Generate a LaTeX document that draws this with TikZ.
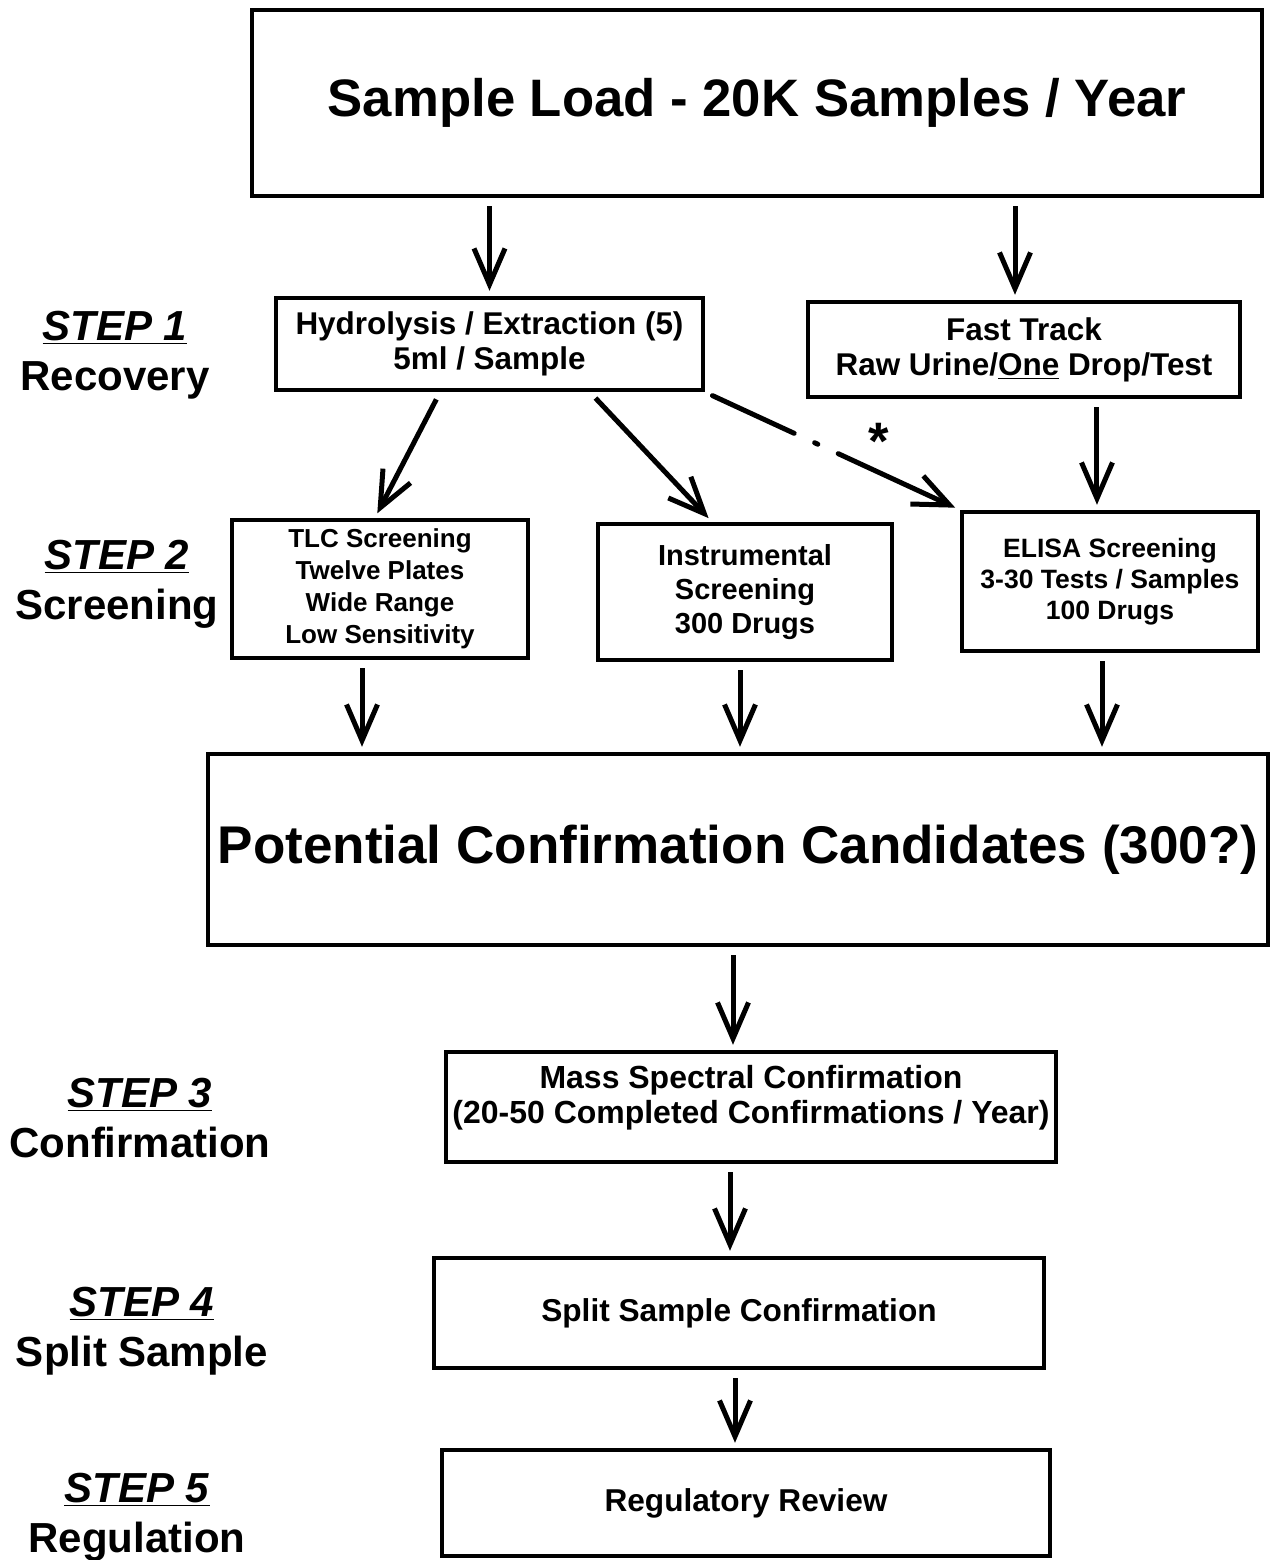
\documentclass[tikz,border=0pt]{standalone}
\usepackage{fontspec}
\setmainfont{Liberation Sans}
\usetikzlibrary{arrows.meta, positioning}
\newcommand\setfs[2]{\fontsize{#1}{#2}\selectfont\bfseries}

\begin{document}
\begin{tikzpicture}[x=0.02cm,y=-0.02cm]

\tikzstyle{box}=[rectangle,draw,line width=0.09cm,align=center,inner sep=0pt];
\tikzstyle{arr}=[-{Straight Barb[length=0.72cm,width=0.62cm]},line width=0.1cm,shorten <=0.16cm,shorten >=0.1cm];
\tikzstyle{stepname}=[align=center,inner sep=0pt,font=\setfs{23.9}{28.5}];

\useasboundingbox (0,0) rectangle (1270,1560);

% boxes
\node(LOAD) [box, minimum width=20.2cm, minimum height=3.72cm, font=\setfs{30}{36}] at (757,103) {Sample Load - 20K Samples / Year};
\node(HYDRO) [box, minimum width=8.54cm, minimum height=1.84cm, font=\setfs{17.9}{19.9}] at (489.5,344) {Hydrolysis / Extraction (5)\\5ml / Sample};
\node(FAST) [box, minimum width=8.64cm, minimum height=1.9cm, font=\setfs{17.9}{19.9}] at (1024,349.5) {Fast Track\\Raw Urine/\underline{One} Drop/Test};
\node(TLC) [box, minimum width=5.92cm, minimum height=2.76cm, font=\setfs{14.8}{18.2}] at (380,589) {TLC Screening\\Twelve Plates\\Wide Range\\Low Sensitivity};
\node(INSTR) [box, minimum width=5.88cm, minimum height=2.72cm, font=\setfs{16.5}{19.3}] at (745,592) {Instrumental\\Screening\\300 Drugs};
\node(ELISA) [box, minimum width=5.92cm, minimum height=2.78cm, font=\setfs{15.1}{17.6}] at (1110,581.5) {ELISA Screening\\3-30 Tests / Samples\\100 Drugs};
\node(CAND) [box, minimum width=21.2cm, minimum height=3.82cm, font=\setfs{30.2}{36}] at (738,849.5) {Potential Confirmation Candidates (300?)};
\node(MASS) [box, minimum width=12.2cm, minimum height=2.2cm, font=\setfs{18.2}{19.9}] at (751,1107) {Mass Spectral Confirmation\\(20-50 Completed Confirmations / Year)\\[-0.2cm]~};
\node(SPLIT) [box, minimum width=12.2cm, minimum height=2.2cm, font=\setfs{18}{20}] at (739,1313) {Split Sample Confirmation};
\node(REVIEW) [box, minimum width=12.16cm, minimum height=2.12cm, font=\setfs{18}{20}] at (746,1503) {Regulatory Review};

% step labels
\node(STEPA) [stepname] at (115,355) {\underline{\textit{STEP 1}}\\Recovery};
\node(STEPB) [stepname] at (117,584) {\underline{\textit{STEP 2}}\\Screening};
\node(STEPC) [stepname] at (140,1118) {\underline{\textit{STEP 3}}\\Confirmation};
\node(STEPD) [stepname] at (142,1331) {\underline{\textit{STEP 4}}\\Split Sample};
\node(STEPE) [stepname] at (137,1517) {\underline{\textit{STEP 5}}\\Regulation};

% arrows
\draw[arr] (LOAD.south -| HYDRO.north) -- (HYDRO.north);
\draw[arr] ([xshift=-0.18cm]FAST.north |- LOAD.south) -- ([xshift=-0.18cm]FAST.north);
\draw[arr] ([xshift=-0.99cm]HYDRO.south) -- ([xshift=-0.1cm]TLC.north);
\draw[arr] ([xshift=2.01cm]HYDRO.south) -- ([xshift=-0.66cm]INSTR.north);
\draw[arr, line cap=round, dash pattern=on 1.8cm off 0.45cm on 0.07cm off 0.45cm on 6cm] (HYDRO.south east) -- (ELISA.north west)
  node(STAR) [pos=0.68, yshift=0.62cm, font=\setfs{30}{30}] {*};
\draw[arr] ([xshift=1.46cm]FAST.south) -- ([xshift=1.46cm]FAST.south |- ELISA.north);
\draw[arr] ([xshift=-0.36cm]TLC.south) -- ([xshift=-0.36cm]TLC.south |- CAND.north);
\draw[arr] ([xshift=-0.1cm]INSTR.south) -- ([xshift=-0.1cm]INSTR.south |- CAND.north);
\draw[arr] ([xshift=-0.16cm]ELISA.south) -- ([xshift=-0.16cm]ELISA.south |- CAND.north);
\draw[arr] ([xshift=-0.1cm]CAND.south) -- ([xshift=-0.1cm]CAND.south |- MASS.north);
\draw[arr] ([xshift=-0.42cm]MASS.south) -- ([xshift=-0.42cm]MASS.south |- SPLIT.north);
\draw[arr] ([xshift=-0.08cm]SPLIT.south) -- ([xshift=-0.08cm]SPLIT.south |- REVIEW.north);

\end{tikzpicture}
\end{document}
